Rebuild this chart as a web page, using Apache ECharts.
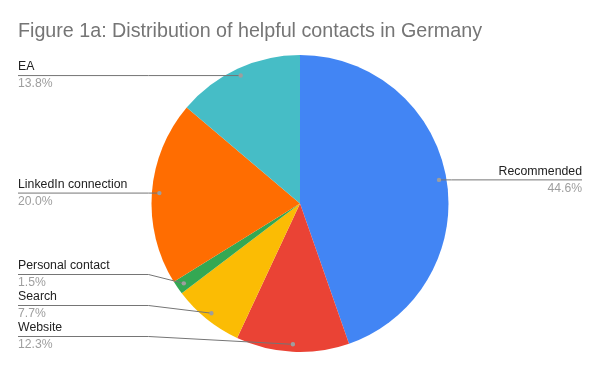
<!DOCTYPE html>
<html><head><meta charset="utf-8">
<script src="https://cdn.jsdelivr.net/npm/echarts@6/dist/echarts.min.js"></script>
<style>html,body{margin:0;padding:0;background:#fff}#c{width:600px;height:371px}</style>
</head><body><div id="c"></div>
<script>
const titleText = 'Figure 1a: Distribution of helpful contacts in Germany';
const categories = ['Recommended', 'Website', 'Search', 'Personal contact', 'LinkedIn connection', 'EA'];
const values = [44.6, 12.3, 7.7, 1.5, 20.0, 13.8];
const colors = ['#4285F4', '#EA4335', '#FBBC04', '#34A853', '#FF6D01', '#46BDC6'];

const FONT = '"Liberation Sans", Arial, sans-serif';
const CENTER = [300, 203.5];
const R = 148.5, R_LABEL = 141;
const LABEL_SPACING = 31;
const chart = echarts.init(document.getElementById('c'), null, { renderer: 'canvas' });
const data = categories.map((n, i) => ({ name: n, value: values[i] }));
const dots = [];
let targetY = null;

function layoutLabel(p) {
  const pts = p.labelLinePoints;
  if (!pts) return {};
  const d = pts[0];
  const isLeft = d[0] < CENTER[0];
  dots[p.dataIndex] = { x: d[0], y: d[1], left: isLeft };
  if (!targetY) return {};
  const ty = targetY[p.dataIndex];
  const r = p.labelRect;
  const endX = isLeft ? r.x : r.x + r.width;
  const bendX = isLeft ? Math.min(d[0], CENTER[0] - R - 3) : Math.max(d[0], CENTER[0] + R + 3);
  return { y: ty, labelLinePoints: [[d[0], d[1]], [bendX, ty], [endX, ty]] };
}

function computeTargets() {
  const t = [];
  const bottom = CENTER[1] + R - LABEL_SPACING / 2;
  [true, false].forEach(side => {
    const idx = dots.map((d, i) => i).filter(i => dots[i] && dots[i].left === side)
      .sort((a, b) => dots[b].y - dots[a].y);
    let limit = bottom;
    idx.forEach(i => {
      const y = Math.min(dots[i].y, limit);
      t[i] = y;
      limit = y - LABEL_SPACING;
    });
  });
  return t;
}

function buildOption() {
  return {
    animation: false,
    title: {
      text: titleText, left: 18, top: 22, padding: 0,
      textStyle: { fontFamily: FONT, fontSize: 19.7, fontWeight: 'normal', color: '#757575' }
    },
    color: colors,
    series: [
      {
        type: 'pie', left: 0, top: 0, right: 0, bottom: 0,
        center: CENTER, radius: R, startAngle: 90, clockwise: true,
        silent: true, label: { show: false }, labelLine: { show: false },
        data: data
      },
      {
        type: 'pie', left: 0, top: 0, right: 0, bottom: 0, z: 3,
        center: CENTER, radius: R_LABEL, startAngle: 90, clockwise: true,
        silent: true,
        itemStyle: { color: 'rgba(0,0,0,0)' },
        label: {
          show: true, position: 'outer', alignTo: 'edge', edgeDistance: 18,
          distanceToLabelLine: 0,
          formatter: p => '{n|' + p.name + '}\n{p|' + values[p.dataIndex].toFixed(1) + '%}',
          rich: {
            n: { fontFamily: FONT, fontSize: 12.3, color: '#222222', lineHeight: 17 },
            p: { fontFamily: FONT, fontSize: 12.2, color: '#9e9e9e', lineHeight: 17 }
          }
        },
        labelLine: { show: true, length: 0, length2: 20, lineStyle: { color: '#757575', width: 1 } },
        labelLayout: layoutLabel,
        data: data
      }
    ]
  };
}
chart.setOption(buildOption());
targetY = computeTargets();
chart.setOption(buildOption(), true);
chart.setOption({
  graphic: dots.filter(Boolean).map(d => ({
    type: 'circle', z: 10, silent: true,
    shape: { cx: d.x, cy: d.y, r: 2.2 },
    style: { fill: '#9e9e9e' }
  }))
});
</script>
</body></html>
